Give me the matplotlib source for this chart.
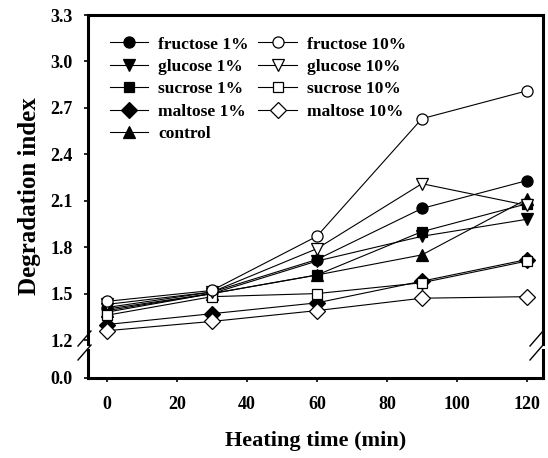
import matplotlib
matplotlib.use('Agg')
import matplotlib.pyplot as plt
from matplotlib.lines import Line2D

# Dados
time = [0, 30, 60, 90, 120]
fructose_1 = [1.41, 1.51, 1.72, 2.05, 2.23]
glucose_1 = [1.40, 1.50, 1.71, 1.87, 1.98]
sucrose_1 = [1.38, 1.50, 1.62, 1.90, 2.08]
maltose_1 = [1.30, 1.37, 1.44, 1.58, 1.72]
control = [1.39, 1.50, 1.62, 1.75, 2.11]
fructose_10 = [1.45, 1.52, 1.87, 2.63, 2.81]
glucose_10 = [1.43, 1.51, 1.79, 2.21, 2.07]
sucrose_10 = [1.36, 1.48, 1.50, 1.57, 1.71]
maltose_10 = [1.26, 1.32, 1.39, 1.47, 1.48]

y_ticks = [1.2, 1.5, 1.8, 2.1, 2.4, 2.7, 3.0, 3.3]
x_ticks = [0, 20, 40, 60, 80, 100, 120]

plt.rcParams['font.family'] = 'Liberation Serif'
plt.rcParams['font.weight'] = 'bold'

W, H = 548, 458
fig = plt.figure(figsize=(W / 100, H / 100), dpi=100)

def box(x0, y0, x1, y1):
    # pixels (top-left origin) -> figure fractions
    return [x0 / W, 1 - y1 / H, (x1 - x0) / W, (y1 - y0) / H]

ax = fig.add_axes(box(88, 15, 543, 344))
ax_b = fig.add_axes(box(88, 350, 543, 378), sharex=ax)

# series: (label, data, marker, filled, size)
series = [
    ('control', control, '^', True, 8),
    ('maltose 1%', maltose_1, 'D', True, 8.5),
    ('sucrose 1%', sucrose_1, 's', True, 7),
    ('fructose 1%', fructose_1, 'o', True, 8),
    ('glucose 1%', glucose_1, 'v', True, 8),
    ('maltose 10%', maltose_10, 'D', False, 8.5),
    ('sucrose 10%', sucrose_10, 's', False, 7),
    ('glucose 10%', glucose_10, 'v', False, 8),
    ('fructose 10%', fructose_10, 'o', False, 8),
]

handles = {}
for label, vals, mk, filled, ms in series:
    h, = ax.plot(time, vals, color='black', lw=0.8, marker=mk, ms=ms,
                 mfc='black' if filled else 'white', mec='black', mew=0.9,
                 label=label)
    handles[label] = h

order = ['fructose 1%', 'glucose 1%', 'sucrose 1%', 'maltose 1%', 'control',
         'fructose 10%', 'glucose 10%', 'sucrose 10%', 'maltose 10%']
ax.legend([handles[k] for k in order], order, ncol=2, loc='upper left',
          bbox_to_anchor=(0.048, 0.935), frameon=False, borderpad=0,
          borderaxespad=0, handlelength=2.2, handletextpad=0.6,
          columnspacing=0.55, labelspacing=0.36,
          prop={'family': 'Liberation Serif', 'weight': 'bold', 'size': 12.5})

ax.set_xlim(-5.4, 124.6)
ax.set_ylim(1.2 - 4 / 154.8, 3.3)
ax.set_yticks(y_ticks)
ax.set_yticklabels([f'{v:.1f}' for v in y_ticks])
ax_b.set_ylim(0, 28 / 154.8)
ax_b.set_yticks([0.0])
ax_b.set_yticklabels(['0.0'])
ax_b.set_xticks(x_ticks)

for a in (ax, ax_b):
    for s in a.spines.values():
        s.set_linewidth(2.2)
    a.tick_params(axis='y', direction='out', length=3, width=1.2, pad=8,
                  labelsize=13)
ax.spines['bottom'].set_visible(False)
ax_b.spines['top'].set_visible(False)
ax.tick_params(axis='x', bottom=False, labelbottom=False)
ax_b.tick_params(axis='x', direction='out', length=3, width=1.2, pad=10,
                 labelsize=13)

# marcas de quebra do eixo
for x0 in (78, 530):
    for dy in (0, 14):
        fig.add_artist(Line2D([x0 / W, (x0 + 13) / W],
                              [1 - (360 - dy) / H, 1 - (345 - dy) / H],
                              color='black', lw=1))

fig.text(30 / W, 1 - 196 / H, 'Degradation index', rotation=90,
         ha='center', va='center', fontsize=18, fontweight='bold')
fig.text(316 / W, 1 - 441 / H, 'Heating time (min)', ha='center',
         va='center', fontsize=16, fontweight='bold')

plt.savefig('out.png', dpi=100)
